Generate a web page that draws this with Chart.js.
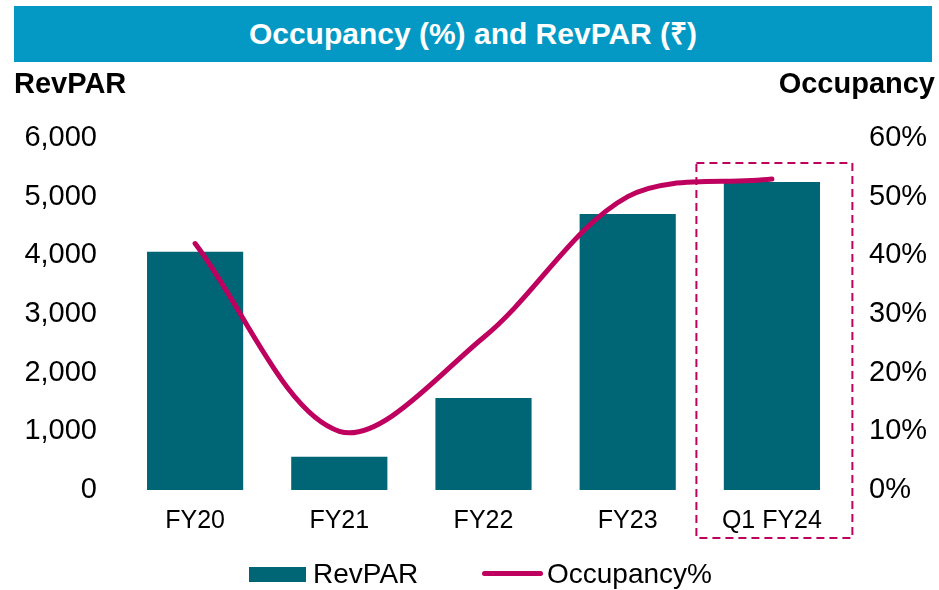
<!DOCTYPE html>
<html>
<head>
<meta charset="utf-8">
<script src="https://cdn.jsdelivr.net/npm/chart.js@4.4.0/dist/chart.umd.min.js"></script>
<style>
  html, body { margin: 0; padding: 0; background: #fff; }
  body { width: 939px; height: 590px; position: relative; overflow: hidden; font-family: "Liberation Sans", Arial, sans-serif; }
  #wrap { position: absolute; left: 0; top: 0; width: 939px; height: 590px; }
  .titlebar { position: absolute; left: 14px; top: 6px; width: 918px; height: 56px; background: #0399C4;
    color: #fff; font-weight: bold; font-size: 30px; display: flex; align-items: center; justify-content: center; line-height: 30px; }
  .axis-title { position: absolute; top: 69px; font-weight: bold; font-size: 29px; line-height: 29px; color: #000; }
  .legend-text { position: absolute; top: 560px; font-size: 28px; line-height: 28px; color: #000; }
  .swatch { position: absolute; }
</style>
</head>
<body>
<div id="wrap"><canvas id="occChart" width="939" height="590"></canvas></div>
<div class="titlebar">Occupancy (%) and RevPAR (₹)</div>
<div class="axis-title" style="left:14px">RevPAR</div>
<div class="axis-title" style="right:4px">Occupancy</div>
<div id="legend"></div>
<script>
const categories = ['FY20', 'FY21', 'FY22', 'FY23', 'Q1 FY24'];
const revparValues = [4060, 565, 1570, 4705, 5250];
const occupancyValues = [42, 10, 26, 50, 53];

const revparTicks = [0, 1000, 2000, 3000, 4000, 5000, 6000];
const occupancyTicks = [0, 10, 20, 30, 40, 50, 60];

const TEAL = '#006675';
const MAGENTA = '#BE005E';

// dashed box round the latest quarter
const highlightBox = {
  id: 'highlightBox',
  afterDatasetsDraw(chart) {
    const { ctx, chartArea, scales } = chart;
    const cx = scales.x.getPixelForValue(categories.length - 1);
    ctx.save();
    ctx.strokeStyle = MAGENTA;
    ctx.lineWidth = 2;
    ctx.setLineDash([8, 5]);
    ctx.strokeRect(cx - 75.5, chartArea.top + 25, 156, chartArea.bottom - chartArea.top + 23);
    ctx.restore();
  }
};

function renderLegend() {
  const el = document.getElementById('legend');
  el.innerHTML = `
    <div class="swatch" style="left:249px;top:567px;width:57px;height:15px;background:${TEAL}"></div>
    <div class="legend-text" style="left:313px">RevPAR</div>
    <div class="swatch" style="left:482px;top:571px;width:61px;height:5px;border-radius:3px;background:${MAGENTA}"></div>
    <div class="legend-text" style="left:547px">Occupancy%</div>
  `;
}

function createChart() {
  const ctx = document.getElementById('occChart').getContext('2d');
  new Chart(ctx, {
    data: {
      labels: categories,
      datasets: [
        {
          type: 'line',
          label: 'Occupancy%',
          data: occupancyValues,
          yAxisID: 'y1',
          borderColor: MAGENTA,
          borderWidth: 5,
          borderCapStyle: 'round',
          tension: 0.33,
          pointRadius: 0,
          fill: false,
          order: 0,
        },
        {
          type: 'bar',
          label: 'RevPAR',
          data: revparValues,
          yAxisID: 'y',
          backgroundColor: TEAL,
          categoryPercentage: 1,
          barPercentage: 0.667,
          order: 1,
        }
      ]
    },
    options: {
      responsive: false,
      animation: false,
      layout: { padding: { top: 138, left: 0, right: 0, bottom: 0 } },
      plugins: { legend: { display: false }, tooltip: { enabled: false } },
      scales: {
        x: {
          grid: { display: false, drawTicks: false },
          border: { display: false },
          ticks: { color: '#000', font: { family: 'Liberation Sans', size: 25 }, padding: 16 },
          afterFit(scale) { scale.height = 100; }
        },
        y: {
          position: 'left',
          min: 0, max: 6000,
          afterBuildTicks(scale) { scale.ticks = revparTicks.map(v => ({ value: v })); },
          grid: { display: false, drawTicks: false },
          border: { display: false },
          ticks: {
            color: '#000', font: { family: 'Liberation Sans', size: 29 }, padding: 26,
            callback: v => v.toLocaleString('en-US')
          },
          afterFit(scale) { scale.width = 123; }
        },
        y1: {
          position: 'right',
          min: 0, max: 60,
          afterBuildTicks(scale) { scale.ticks = occupancyTicks.map(v => ({ value: v })); },
          grid: { display: false, drawTicks: false },
          border: { display: false },
          ticks: {
            color: '#000', font: { family: 'Liberation Sans', size: 29 }, padding: 25,
            callback: v => v + '%'
          },
          afterFit(scale) { scale.width = 95; }
        }
      }
    },
    plugins: [highlightBox]
  });
}

window.addEventListener('DOMContentLoaded', () => {
  renderLegend();
  createChart();
});
</script>
</body>
</html>
